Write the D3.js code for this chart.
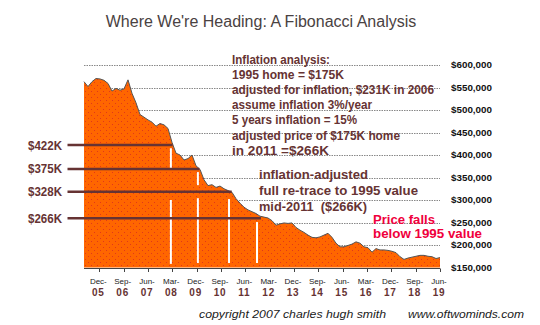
<!DOCTYPE html>
<html><head><meta charset="utf-8">
<script src="https://cdn.jsdelivr.net/npm/d3@7"></script>
<style>
html,body{margin:0;padding:0;background:#fff;}
svg{display:block;font-family:Arial,"Liberation Sans",sans-serif;}
</style></head>
<body><svg id="c" width="540" height="325"></svg>
<script>
// ---- data ----
const tickMonths = ["Dec-","Sep-","Jun-","Mar-","Dec-","Sep-","Jun-","Mar-","Dec-","Sep-","Jun-","Mar-","Dec-","Sep-","Jun-"];
const tickYears  = ["05","06","07","08","09","10","11","12","13","14","15","16","17","18","19"];
// median home price ($K), evenly spaced samples across the plotted period
const pricesK = [563,552,563,570,569,566,559,542,548,544,547,567,537,516,490,484,478,473,464,470,
                 467,459,428,404,400,389,392,400,376,368,345,332,334,328,331,325,321,317,303,293,
                 284,278,274,270,264,262,260,254,244,247,249,248,249,239,233,228,222,217,216,218,
                 222,226,217,204,196,196,199,202,207,204,196,194,184,192,189,189,188,186,183,174,
                 168,171,173,175,177,177,175,174,170,172];
const yTickValues = [150000,200000,250000,300000,350000,400000,450000,500000,550000,600000];
const levelLabels = ["$422K","$375K","$328K","$266K"];
const levelValues = [422000,369000,318500,259300];   // where the lines sit
const levelEnds   = [3.01,4.11,5.44,6.64];          // period where each line stops
const dropPeriods = [2.94,4.05,5.33,6.48];          // white drop lines
const dropSegments = [
  [[415000,371000],[300000,158000]],
  [[362000,333000],[304000,160000]],
  [[302000,160000]],
  [[251000,160000]]
];
const noteLines = ["Inflation analysis:","1995 home = $175K","adjusted for inflation, $231K in 2006",
  "assume inflation 3%/year","5 years inflation = 15%","adjusted price of $175K home","in 2011 =$266K"];
const noteWidths = [98,112,202,140,125,168,97];
const retraceLines = ["inflation-adjusted","full re-trace to 1995 value","mid-2011  ($266K)"];
const retraceWidths = [109,159,108];
const fallLines = ["Price falls","below 1995 value"];
const fallWidths = [62,109];

// ---- layout ----
const svg = d3.select("#c");
const periodStart = -0.63, periodEnd = 14;
const x = d3.scaleLinear().domain([periodStart, periodEnd]).range([84, 440]);
const y = d3.scaleLinear().domain([150000, 600000]).range([267.5, 65]);
const data = pricesK.map((v,i)=>({t: periodStart + i*(periodEnd-periodStart)/(pricesK.length-1), v: v*1000}));

const brown = "#663333";

// title
svg.append("text").attr("x",261).attr("y",27).attr("text-anchor","middle")
  .attr("font-size",16).attr("fill","#4a4242").text("Where We're Heading: A Fibonacci Analysis");

// gridlines
svg.append("g").selectAll("line").data(yTickValues.slice(1)).join("line")
  .attr("x1",x(periodStart)).attr("x2",x(periodEnd))
  .attr("y1",d=>Math.round(y(d))+0.5).attr("y2",d=>Math.round(y(d))+0.5)
  .attr("stroke","#888").attr("stroke-width",1).attr("stroke-dasharray","1.5,1");

// y labels
svg.append("g").selectAll("text").data(yTickValues).join("text")
  .attr("x",451).attr("y",d=>y(d)+3).attr("font-size",8.5).attr("font-weight","bold")
  .attr("fill","#111").attr("textLength",41).attr("lengthAdjust","spacingAndGlyphs")
  .text(d=>"$"+d3.format(",")(d));

// area with dotted pattern
const defs = svg.append("defs");
const pat = defs.append("pattern").attr("id","dots").attr("patternUnits","userSpaceOnUse")
  .attr("width",6).attr("height",6);
pat.append("rect").attr("width",6).attr("height",6).attr("fill","#ff6600");
pat.append("rect").attr("x",1).attr("y",1).attr("width",1).attr("height",1).attr("fill","#e0381a");
pat.append("rect").attr("x",4).attr("y",4).attr("width",1).attr("height",1).attr("fill","#e0381a");

const area = d3.area().x(d=>x(d.t)).y0(y(150000)).y1(d=>y(d.v));
svg.append("path").datum(data).attr("d",area).attr("fill","url(#dots)");
svg.append("path").datum(data).attr("d",d3.line().x(d=>x(d.t)).y(d=>y(d.v)))
  .attr("fill","none").attr("stroke","#555").attr("stroke-width",1);

// white drop lines
dropSegments.forEach((segs,i)=>{
  segs.forEach(s=>{
    svg.append("line").attr("x1",x(dropPeriods[i])).attr("x2",x(dropPeriods[i]))
      .attr("y1",y(s[0])).attr("y2",y(s[1])).attr("stroke","#fff").attr("stroke-width",2);
  });
});

// level lines + labels
levelValues.forEach((v,i)=>{
  svg.append("line").attr("x1",67.5).attr("x2",x(levelEnds[i]))
    .attr("y1",y(v)).attr("y2",y(v)).attr("stroke",brown).attr("stroke-width",2.5);
  svg.append("text").attr("x",62).attr("y",y(v)+4.5).attr("text-anchor","end")
    .attr("font-size",12.5).attr("font-weight","bold").attr("fill",brown)
    .attr("textLength",34).attr("lengthAdjust","spacingAndGlyphs").text(levelLabels[i]);
});

// x axis
const ax = svg.append("g");
ax.append("line").attr("x1",x(periodStart)).attr("x2",x(periodEnd)).attr("y1",268.5).attr("y2",268.5)
  .attr("stroke","#444").attr("stroke-width",1);
const tickIdx = d3.range(tickMonths.length);
ax.selectAll("line.tk").data(tickIdx).join("line").attr("class","tk")
  .attr("x1",d=>Math.round(x(d))+0.5).attr("x2",d=>Math.round(x(d))+0.5)
  .attr("y1",268.5).attr("y2",272).attr("stroke","#444");
ax.selectAll("text.m").data(tickIdx).join("text").attr("class","m")
  .attr("x",d=>x(d)-1).attr("y",284).attr("text-anchor","middle")
  .attr("font-size",8).attr("fill","#222").text(d=>tickMonths[d]);
ax.selectAll("text.yr").data(tickIdx).join("text").attr("class","yr")
  .attr("x",d=>x(d)-1).attr("y",296).attr("text-anchor","middle")
  .attr("font-size",10).attr("font-weight","bold").attr("fill",brown)
  .attr("letter-spacing",0.8).text(d=>tickYears[d]);

// annotation block
noteLines.forEach((t,i)=>{
  svg.append("text").attr("x",232).attr("y",64+i*15.1).attr("font-size",12.5).attr("font-weight","bold")
    .attr("fill",brown).attr("textLength",noteWidths[i]).attr("lengthAdjust","spacingAndGlyphs").text(t);
});
retraceLines.forEach((t,i)=>{
  svg.append("text").attr("x",259).attr("y",178.5+i*16.2).attr("font-size",13).attr("font-weight","bold")
    .attr("fill",brown).attr("textLength",retraceWidths[i]).attr("lengthAdjust","spacingAndGlyphs")
    .attr("xml:space","preserve").style("white-space","pre").text(t);
});
fallLines.forEach((t,i)=>{
  svg.append("text").attr("x",373).attr("y",223.5+i*14.5).attr("font-size",13).attr("font-weight","bold")
    .attr("fill","#f0003c").attr("textLength",fallWidths[i]).attr("lengthAdjust","spacingAndGlyphs").text(t);
});

// footer
svg.append("text").attr("x",199).attr("y",318).attr("font-size",11.5).attr("font-style","italic")
  .attr("fill","#1a1a1a").attr("textLength",187).attr("lengthAdjust","spacingAndGlyphs")
  .text("copyright 2007 charles hugh smith");
svg.append("text").attr("x",408).attr("y",318).attr("font-size",11.5).attr("font-style","italic")
  .attr("fill","#1a1a1a").attr("textLength",116).attr("lengthAdjust","spacingAndGlyphs")
  .text("www.oftwominds.com");
</script></body></html>
